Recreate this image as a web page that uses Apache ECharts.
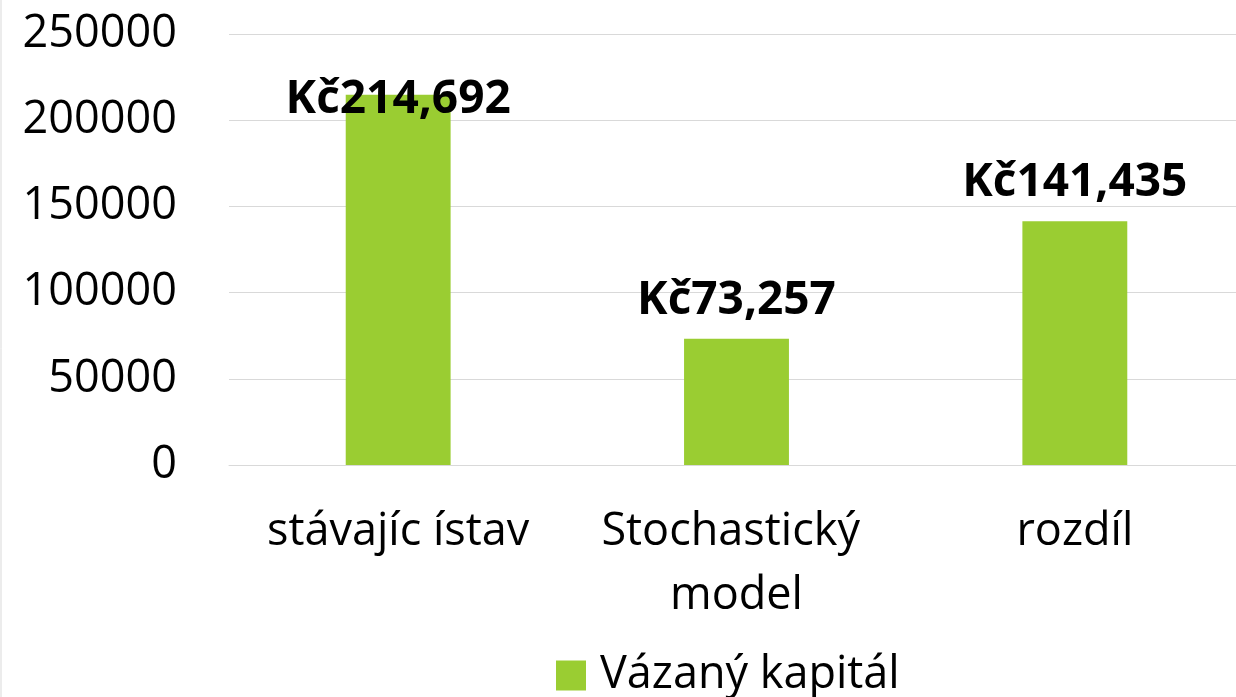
<!DOCTYPE html>
<html>
<head>
<meta charset="utf-8">
<script src="https://cdn.jsdelivr.net/npm/echarts@6/dist/echarts.min.js"></script>
<style>
  html, body { margin: 0; padding: 0; background: #fff; }
  #main { width: 1236px; height: 697px; }
</style>
</head>
<body>
<div id="main"></div>
<script>
// data
var categories = ['stávajíc ístav', 'Stochastický model', 'rozdíl'];
var vazanyKapital = [214692, 73257, 141435];
var seriesName = 'Vázaný kapitál';
var yTicks = [0, 50000, 100000, 150000, 200000, 250000];

var fontFamily = '"Open Sans", "Noto Sans", sans-serif';

// label per bar - first one doesn't fit above, so goes over the bar top
var barData = [];
for (var i = 0; i < vazanyKapital.length; i++) {
    var item = { value: vazanyKapital[i] };
    if (i === 0) {
        item.label = { position: 'top', distance: -28 };
    }
    barData.push(item);
}

var chartDom = document.getElementById('main');
var chart = echarts.init(chartDom);

var option = {
    animation: false,
    textStyle: { fontFamily: fontFamily },
    graphic: [
        {
            type: 'line',
            shape: { x1: 1, y1: 0, x2: 1, y2: 697 },
            style: { stroke: '#d9d9d9', lineWidth: 1 }
        }
    ],
    grid: {
        left: 229,
        top: 34,
        width: 1015,
        height: 431,
        outerBoundsMode: 'none'
    },
    legend: {
        data: [seriesName],
        left: 551,
        top: 648,
        itemWidth: 30,
        itemHeight: 30,
        itemGap: 10,
        icon: 'rect',
        textStyle: {
            fontSize: 45,
            color: '#000',
            fontFamily: fontFamily,
            padding: [0, 0, 0, 9]
        }
    },
    xAxis: {
        type: 'category',
        data: categories,
        axisTick: { show: false },
        axisLine: { lineStyle: { color: '#d9d9d9', width: 1 } },
        axisLabel: {
            interval: 0,
            margin: 35,
            fontSize: 45,
            lineHeight: 64,
            color: '#000',
            width: 375,
            overflow: 'break'
        }
    },
    yAxis: {
        type: 'value',
        min: yTicks[0],
        max: yTicks[yTicks.length - 1],
        interval: 50000,
        axisLine: { show: false },
        axisTick: { show: false },
        splitLine: { lineStyle: { color: '#d9d9d9', width: 1 } },
        axisLabel: {
            margin: 52,
            fontSize: 45,
            color: '#000',
            formatter: function (v) { return String(v); }
        }
    },
    series: [
        {
            name: seriesName,
            type: 'bar',
            data: barData,
            barWidth: '31%',
            itemStyle: { color: '#9ACD32' },
            label: {
                show: true,
                position: 'top',
                distance: 15,
                fontSize: 46,
                fontWeight: 'bold',
                color: '#000',
                formatter: function (p) {
                    return 'Kč' + p.value.toLocaleString('en-US');
                }
            }
        }
    ]
};

chart.setOption(option);

window.addEventListener('resize', function () {
    chart.resize();
});
</script>
</body>
</html>
